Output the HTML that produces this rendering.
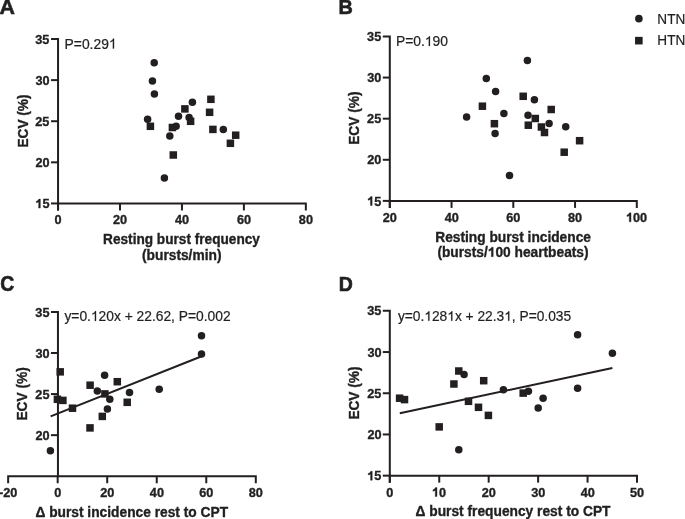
<!DOCTYPE html>
<html><head><meta charset="utf-8"><style>
html,body{margin:0;padding:0;background:#fff;width:685px;height:519px;overflow:hidden}
svg{display:block}
.tx{filter:grayscale(1)}
text{font-family:"Liberation Sans",sans-serif;fill:#231f20}
text:not(.b):not(.pl){stroke:#231f20;stroke-width:0.2px}
.b{font-weight:bold;stroke:#231f20;stroke-width:0.35px}
.pl{font-weight:bold;stroke:#231f20;stroke-width:0.6px}
.h{fill-opacity:0;stroke-opacity:0}
.gb{fill:#231f20;stroke:#231f20;stroke-width:0.35px}
.gr{fill:#231f20;stroke:#231f20;stroke-width:0.2px}
</style></head><body>
<svg width="685" height="519" viewBox="0 0 685 519">
<g stroke="#231f20" stroke-width="2" fill="none" stroke-linecap="butt" stroke-linejoin="miter">
<path d="M51.05,39.00H58.05V210.45"/>
<path d="M58.05,210.45V203.45H305.85V210.45"/>
<line x1="51.05" y1="80.11" x2="58.05" y2="80.11"/>
<line x1="51.05" y1="121.22" x2="58.05" y2="121.22"/>
<line x1="51.05" y1="162.34" x2="58.05" y2="162.34"/>
<line x1="51.05" y1="203.45" x2="58.05" y2="203.45"/>
<line x1="120.00" y1="203.45" x2="120.00" y2="210.45"/>
<line x1="181.95" y1="203.45" x2="181.95" y2="210.45"/>
<line x1="243.90" y1="203.45" x2="243.90" y2="210.45"/>
<path d="M382.80,36.45H389.80V207.90"/>
<path d="M389.80,207.90V200.90H636.80V207.90"/>
<line x1="382.80" y1="77.56" x2="389.80" y2="77.56"/>
<line x1="382.80" y1="118.67" x2="389.80" y2="118.67"/>
<line x1="382.80" y1="159.79" x2="389.80" y2="159.79"/>
<line x1="382.80" y1="200.90" x2="389.80" y2="200.90"/>
<line x1="451.55" y1="200.90" x2="451.55" y2="207.90"/>
<line x1="513.30" y1="200.90" x2="513.30" y2="207.90"/>
<line x1="575.05" y1="200.90" x2="575.05" y2="207.90"/>
<path d="M50.95,311.90H57.95V476.25"/>
<path d="M8.15,483.25V476.25H255.80V483.25"/>
<line x1="50.95" y1="352.99" x2="57.95" y2="352.99"/>
<line x1="50.95" y1="394.07" x2="57.95" y2="394.07"/>
<line x1="50.95" y1="435.16" x2="57.95" y2="435.16"/>
<line x1="57.68" y1="476.25" x2="57.68" y2="483.25"/>
<line x1="107.21" y1="476.25" x2="107.21" y2="483.25"/>
<line x1="156.74" y1="476.25" x2="156.74" y2="483.25"/>
<line x1="206.27" y1="476.25" x2="206.27" y2="483.25"/>
<line x1="50.60" y1="416.40" x2="201.70" y2="356.20"/>
<path d="M382.80,310.85H389.80V482.65"/>
<path d="M389.80,482.65V475.65H637.00V482.65"/>
<line x1="382.80" y1="352.05" x2="389.80" y2="352.05"/>
<line x1="382.80" y1="393.25" x2="389.80" y2="393.25"/>
<line x1="382.80" y1="434.45" x2="389.80" y2="434.45"/>
<line x1="382.80" y1="475.65" x2="389.80" y2="475.65"/>
<line x1="439.24" y1="475.65" x2="439.24" y2="482.65"/>
<line x1="488.68" y1="475.65" x2="488.68" y2="482.65"/>
<line x1="538.12" y1="475.65" x2="538.12" y2="482.65"/>
<line x1="587.56" y1="475.65" x2="587.56" y2="482.65"/>
<line x1="399.80" y1="413.20" x2="612.40" y2="368.00"/>
</g>
<g fill="#231f20">
<circle cx="154.20" cy="62.80" r="3.75"/>
<circle cx="152.45" cy="80.95" r="3.75"/>
<circle cx="154.40" cy="94.00" r="3.75"/>
<circle cx="147.60" cy="119.30" r="3.75"/>
<circle cx="192.40" cy="102.30" r="3.75"/>
<circle cx="178.50" cy="116.30" r="3.75"/>
<circle cx="189.10" cy="117.50" r="3.75"/>
<circle cx="176.10" cy="126.20" r="3.75"/>
<circle cx="169.80" cy="136.10" r="3.75"/>
<circle cx="164.40" cy="178.00" r="3.75"/>
<circle cx="223.30" cy="129.40" r="3.75"/>
<rect x="146.65" y="122.55" width="7.5" height="7.5"/>
<rect x="181.15" y="105.15" width="7.5" height="7.5"/>
<rect x="186.85" y="117.55" width="7.5" height="7.5"/>
<rect x="168.65" y="123.75" width="7.5" height="7.5"/>
<rect x="169.55" y="151.25" width="7.5" height="7.5"/>
<rect x="207.15" y="95.55" width="7.5" height="7.5"/>
<rect x="205.85" y="108.55" width="7.5" height="7.5"/>
<rect x="209.15" y="125.65" width="7.5" height="7.5"/>
<rect x="231.95" y="131.45" width="7.5" height="7.5"/>
<rect x="226.65" y="139.55" width="7.5" height="7.5"/>
<circle cx="527.40" cy="60.40" r="3.75"/>
<circle cx="486.30" cy="78.60" r="3.75"/>
<circle cx="495.60" cy="91.50" r="3.75"/>
<circle cx="534.40" cy="99.70" r="3.75"/>
<circle cx="503.90" cy="113.60" r="3.75"/>
<circle cx="466.60" cy="116.90" r="3.75"/>
<circle cx="528.00" cy="115.30" r="3.75"/>
<circle cx="549.10" cy="123.60" r="3.75"/>
<circle cx="495.10" cy="133.60" r="3.75"/>
<circle cx="565.70" cy="126.80" r="3.75"/>
<circle cx="509.50" cy="175.40" r="3.75"/>
<rect x="519.45" y="92.55" width="7.5" height="7.5"/>
<rect x="478.65" y="102.45" width="7.5" height="7.5"/>
<rect x="547.45" y="105.75" width="7.5" height="7.5"/>
<rect x="531.55" y="114.75" width="7.5" height="7.5"/>
<rect x="490.65" y="119.95" width="7.5" height="7.5"/>
<rect x="524.55" y="121.45" width="7.5" height="7.5"/>
<rect x="537.65" y="123.25" width="7.5" height="7.5"/>
<rect x="540.75" y="128.75" width="7.5" height="7.5"/>
<rect x="575.85" y="136.95" width="7.5" height="7.5"/>
<rect x="560.45" y="148.45" width="7.5" height="7.5"/>
<circle cx="638.90" cy="18.65" r="3.8"/>
<rect x="635.05" y="36.85" width="7.6" height="7.6"/>
<circle cx="201.50" cy="335.70" r="3.75"/>
<circle cx="201.50" cy="354.10" r="3.75"/>
<circle cx="159.20" cy="389.30" r="3.75"/>
<circle cx="104.60" cy="375.20" r="3.75"/>
<circle cx="97.30" cy="391.00" r="3.75"/>
<circle cx="109.80" cy="399.30" r="3.75"/>
<circle cx="107.40" cy="408.90" r="3.75"/>
<circle cx="129.50" cy="392.40" r="3.75"/>
<circle cx="50.40" cy="450.80" r="3.75"/>
<rect x="56.45" y="368.10" width="7.5" height="7.5"/>
<rect x="53.65" y="395.55" width="7.5" height="7.5"/>
<rect x="59.15" y="396.65" width="7.5" height="7.5"/>
<rect x="68.75" y="404.45" width="7.5" height="7.5"/>
<rect x="86.35" y="381.45" width="7.5" height="7.5"/>
<rect x="101.15" y="390.15" width="7.5" height="7.5"/>
<rect x="113.55" y="377.95" width="7.5" height="7.5"/>
<rect x="123.45" y="398.55" width="7.5" height="7.5"/>
<rect x="98.55" y="412.65" width="7.5" height="7.5"/>
<rect x="86.25" y="424.15" width="7.5" height="7.5"/>
<circle cx="464.10" cy="374.40" r="3.75"/>
<circle cx="458.80" cy="449.70" r="3.75"/>
<circle cx="503.40" cy="389.80" r="3.75"/>
<circle cx="528.40" cy="391.20" r="3.75"/>
<circle cx="543.10" cy="398.30" r="3.75"/>
<circle cx="538.20" cy="408.10" r="3.75"/>
<circle cx="577.60" cy="334.70" r="3.75"/>
<circle cx="612.40" cy="353.20" r="3.75"/>
<circle cx="577.60" cy="388.20" r="3.75"/>
<rect x="455.05" y="367.25" width="7.5" height="7.5"/>
<rect x="450.15" y="380.25" width="7.5" height="7.5"/>
<rect x="479.95" y="376.95" width="7.5" height="7.5"/>
<rect x="395.85" y="394.45" width="7.5" height="7.5"/>
<rect x="400.75" y="395.85" width="7.5" height="7.5"/>
<rect x="464.75" y="397.55" width="7.5" height="7.5"/>
<rect x="474.75" y="403.55" width="7.5" height="7.5"/>
<rect x="484.65" y="411.65" width="7.5" height="7.5"/>
<rect x="435.45" y="423.15" width="7.5" height="7.5"/>
<rect x="519.45" y="389.35" width="7.5" height="7.5"/>
</g>
<g class="tx">
<path class="gb" transform="translate(35.32,208.09) scale(1,1.0300)" d="M 5.04,-0.00 L 3.30,-0.00 L 3.30,-6.20 C 2.73,-5.72 1.92,-5.33 0.99,-5.12 L 0.99,-6.57 C 1.80,-6.82 2.48,-7.26 2.91,-7.81 C 3.22,-8.19 3.41,-8.50 3.53,-8.74 L 5.04,-8.74 Z"/>
<path class="gr" transform="translate(64.59,48.60) scale(1,1.0480)" d="M 49.47,-0.00 L 48.25,-0.00 L 48.25,-7.44 C 47.96,-7.17 47.57,-6.89 47.10,-6.63 C 46.62,-6.37 46.20,-6.16 45.81,-6.03 L 45.81,-7.16 C 46.49,-7.46 47.09,-7.83 47.60,-8.27 C 48.11,-8.70 48.47,-9.13 48.68,-9.54 L 49.47,-9.54 Z"/>
<path class="gb" transform="translate(367.12,205.54) scale(1,1.0300)" d="M 5.04,-0.00 L 3.30,-0.00 L 3.30,-6.20 C 2.73,-5.72 1.92,-5.33 0.99,-5.12 L 0.99,-6.57 C 1.80,-6.82 2.48,-7.26 2.91,-7.81 C 3.22,-8.19 3.41,-8.50 3.53,-8.74 L 5.04,-8.74 Z"/>
<path class="gb" transform="translate(625.99,221.80) scale(1,1.0300)" d="M 5.04,-0.00 L 3.30,-0.00 L 3.30,-6.20 C 2.73,-5.72 1.92,-5.33 0.99,-5.12 L 0.99,-6.57 C 1.80,-6.82 2.48,-7.26 2.91,-7.81 C 3.22,-8.19 3.41,-8.50 3.53,-8.74 L 5.04,-8.74 Z"/>
<path class="gr" transform="translate(395.89,46.00) scale(1,1.0259)" d="M 34.09,-0.00 L 32.87,-0.00 L 32.87,-7.44 C 32.58,-7.18 32.19,-6.90 31.72,-6.64 C 31.25,-6.37 30.82,-6.17 30.43,-6.03 L 30.43,-7.17 C 31.12,-7.47 31.71,-7.84 32.22,-8.28 C 32.73,-8.71 33.10,-9.14 33.31,-9.55 L 34.09,-9.55 Z"/>
<path class="gb" transform="translate(437.41,256.70) scale(1,1.0045)" d="M 55.82,-0.00 L 53.94,-0.00 L 53.94,-6.71 C 53.32,-6.19 52.45,-5.77 51.44,-5.54 L 51.44,-7.11 C 52.32,-7.38 53.06,-7.85 53.53,-8.46 C 53.86,-8.86 54.06,-9.20 54.20,-9.46 L 55.82,-9.46 Z"/>
<path class="gr" transform="translate(64.43,320.90) scale(1,1.0305)" d="M 31.63,-0.00 L 30.42,-0.00 L 30.42,-7.41 C 30.13,-7.15 29.74,-6.87 29.27,-6.61 C 28.80,-6.34 28.37,-6.14 27.99,-6.01 L 27.99,-7.13 C 28.67,-7.44 29.26,-7.81 29.77,-8.24 C 30.28,-8.67 30.64,-9.10 30.85,-9.51 L 31.63,-9.51 Z"/>
<path class="gb" transform="translate(367.22,480.29) scale(1,1.0300)" d="M 5.04,-0.00 L 3.30,-0.00 L 3.30,-6.20 C 2.73,-5.72 1.92,-5.33 0.99,-5.12 L 0.99,-6.57 C 1.80,-6.82 2.48,-7.26 2.91,-7.81 C 3.22,-8.19 3.41,-8.50 3.53,-8.74 L 5.04,-8.74 Z"/>
<path class="gb" transform="translate(431.95,496.55) scale(1,1.0300)" d="M 5.04,-0.00 L 3.30,-0.00 L 3.30,-6.20 C 2.73,-5.72 1.92,-5.33 0.99,-5.12 L 0.99,-6.57 C 1.80,-6.82 2.48,-7.26 2.91,-7.81 C 3.22,-8.19 3.41,-8.50 3.53,-8.74 L 5.04,-8.74 Z"/>
<path class="gr" transform="translate(397.93,320.80) scale(1,1.0028)" d="M 31.50,-0.00 L 30.29,-0.00 L 30.29,-7.38 C 30.00,-7.12 29.62,-6.84 29.15,-6.58 C 28.68,-6.32 28.25,-6.12 27.87,-5.98 L 27.87,-7.11 C 28.55,-7.41 29.14,-7.78 29.64,-8.21 C 30.15,-8.64 30.51,-9.06 30.72,-9.47 L 31.50,-9.47 Z M 54.44,-0.00 L 53.23,-0.00 L 53.23,-7.38 C 52.94,-7.12 52.55,-6.84 52.08,-6.58 C 51.61,-6.32 51.19,-6.12 50.81,-5.98 L 50.81,-7.11 C 51.48,-7.41 52.08,-7.78 52.58,-8.21 C 53.08,-8.64 53.45,-9.06 53.66,-9.47 L 54.44,-9.47 Z M 111.39,-0.00 L 110.18,-0.00 L 110.18,-7.38 C 109.89,-7.12 109.50,-6.84 109.03,-6.58 C 108.56,-6.32 108.14,-6.12 107.76,-5.98 L 107.76,-7.11 C 108.44,-7.41 109.03,-7.78 109.53,-8.21 C 110.04,-8.64 110.40,-9.06 110.61,-9.47 L 111.39,-9.47 Z"/>
<text class="pl" font-size="21.343" transform="translate(-0.53,13.90) scale(1,0.9806)">A</text>
<text class="b" font-size="12.700" transform="translate(35.32,43.64) scale(1,1.0300)">35</text>
<text class="b" font-size="12.700" transform="translate(35.51,84.76) scale(1,1.0300)">30</text>
<text class="b" font-size="12.700" transform="translate(35.32,125.87) scale(1,1.0300)">25</text>
<text class="b" font-size="12.700" transform="translate(35.51,166.98) scale(1,1.0300)">20</text>
<text id="t0" class="b" font-size="12.700" transform="translate(35.32,208.09) scale(1,1.0300)"><tspan class="h">1</tspan>5</text>
<text class="b" font-size="12.700" transform="translate(54.53,224.35) scale(1,1.0300)">0</text>
<text class="b" font-size="12.700" transform="translate(112.98,224.35) scale(1,1.0300)">20</text>
<text class="b" font-size="12.700" transform="translate(175.06,224.35) scale(1,1.0300)">40</text>
<text class="b" font-size="12.700" transform="translate(236.88,224.35) scale(1,1.0300)">60</text>
<text class="b" font-size="12.700" transform="translate(298.87,224.35) scale(1,1.0300)">80</text>
<text id="t1" class="" font-size="13.869" transform="translate(64.59,48.60) scale(1,1.0480)">P=0.29<tspan class="h">1</tspan></text>
<text class="b" font-size="13.616" transform="translate(27.60,147.49) rotate(-90) scale(1,1.0461)">ECV (%)</text>
<text class="b" font-size="13.648" transform="translate(103.11,244.20) scale(1,1.0650)">Resting burst frequency</text>
<text class="b" font-size="13.768" transform="translate(142.01,259.60) scale(1,1.0557)">(bursts/min)</text>
<text class="pl" font-size="19.836" transform="translate(338.61,13.90) scale(1,1.0552)">B</text>
<text class="b" font-size="12.700" transform="translate(367.12,41.09) scale(1,1.0300)">35</text>
<text class="b" font-size="12.700" transform="translate(367.31,82.21) scale(1,1.0300)">30</text>
<text class="b" font-size="12.700" transform="translate(367.12,123.32) scale(1,1.0300)">25</text>
<text class="b" font-size="12.700" transform="translate(367.31,164.43) scale(1,1.0300)">20</text>
<text id="t2" class="b" font-size="12.700" transform="translate(367.12,205.54) scale(1,1.0300)"><tspan class="h">1</tspan>5</text>
<text class="b" font-size="12.700" transform="translate(382.78,221.80) scale(1,1.0300)">20</text>
<text class="b" font-size="12.700" transform="translate(444.66,221.80) scale(1,1.0300)">40</text>
<text class="b" font-size="12.700" transform="translate(506.28,221.80) scale(1,1.0300)">60</text>
<text class="b" font-size="12.700" transform="translate(568.06,221.80) scale(1,1.0300)">80</text>
<text id="t3" class="b" font-size="12.700" transform="translate(625.99,221.80) scale(1,1.0300)"><tspan class="h">1</tspan>00</text>
<text id="t4" class="" font-size="13.884" transform="translate(395.89,46.00) scale(1,1.0259)">P=0.<tspan class="h">1</tspan>90</text>
<text class="b" font-size="13.722" transform="translate(359.40,144.79) rotate(-90) scale(1,1.0751)">ECV (%)</text>
<text class="b" font-size="13.752" transform="translate(435.21,241.80) scale(1,1.0041)">Resting burst incidence</text>
<text id="t5" class="b" font-size="13.746" transform="translate(437.41,256.70) scale(1,1.0045)">(bursts/<tspan class="h">1</tspan>00 heartbeats)</text>
<text class="" font-size="13.600" transform="translate(657.31,23.50) scale(1,1.0367)">NTN</text>
<text class="" font-size="13.600" transform="translate(657.31,45.30) scale(1,1.0367)">HTN</text>
<text class="pl" font-size="19.389" transform="translate(0.22,291.20) scale(1,1.0945)">C</text>
<text class="b" font-size="12.700" transform="translate(35.37,316.54) scale(1,1.0300)">35</text>
<text class="b" font-size="12.700" transform="translate(35.56,357.63) scale(1,1.0300)">30</text>
<text class="b" font-size="12.700" transform="translate(35.37,398.72) scale(1,1.0300)">25</text>
<text class="b" font-size="12.700" transform="translate(35.56,439.81) scale(1,1.0300)">20</text>
<text class="b" font-size="12.700" transform="translate(-1.03,497.15) scale(1,1.0300)">-20</text>
<text class="b" font-size="12.700" transform="translate(54.16,497.15) scale(1,1.0300)">0</text>
<text class="b" font-size="12.700" transform="translate(100.19,497.15) scale(1,1.0300)">20</text>
<text class="b" font-size="12.700" transform="translate(149.85,497.15) scale(1,1.0300)">40</text>
<text class="b" font-size="12.700" transform="translate(199.25,497.15) scale(1,1.0300)">60</text>
<text class="b" font-size="12.700" transform="translate(248.81,497.15) scale(1,1.0300)">80</text>
<text id="t6" class="" font-size="13.823" transform="translate(64.43,320.90) scale(1,1.0305)">y=0.<tspan class="h">1</tspan>20x + 22.62, P=0.002</text>
<text class="b" font-size="13.766" transform="translate(35.41,516.80) scale(1,1.0453)">Δ burst incidence rest to CPT</text>
<text class="b" font-size="13.748" transform="translate(26.90,420.59) rotate(-90) scale(1,1.0889)">ECV (%)</text>
<text class="pl" font-size="19.512" transform="translate(338.73,291.00) scale(1,1.0652)">D</text>
<text class="b" font-size="12.700" transform="translate(367.22,315.49) scale(1,1.0300)">35</text>
<text class="b" font-size="12.700" transform="translate(367.41,356.69) scale(1,1.0300)">30</text>
<text class="b" font-size="12.700" transform="translate(367.22,397.89) scale(1,1.0300)">25</text>
<text class="b" font-size="12.700" transform="translate(367.41,439.09) scale(1,1.0300)">20</text>
<text id="t7" class="b" font-size="12.700" transform="translate(367.22,480.29) scale(1,1.0300)"><tspan class="h">1</tspan>5</text>
<text class="b" font-size="12.700" transform="translate(386.28,496.55) scale(1,1.0300)">0</text>
<text id="t8" class="b" font-size="12.700" transform="translate(431.95,496.55) scale(1,1.0300)"><tspan class="h">1</tspan>0</text>
<text class="b" font-size="12.700" transform="translate(481.66,496.55) scale(1,1.0300)">20</text>
<text class="b" font-size="12.700" transform="translate(531.17,496.55) scale(1,1.0300)">30</text>
<text class="b" font-size="12.700" transform="translate(580.67,496.55) scale(1,1.0300)">40</text>
<text class="b" font-size="12.700" transform="translate(630.01,496.55) scale(1,1.0300)">50</text>
<text id="t9" class="" font-size="13.769" transform="translate(397.93,320.80) scale(1,1.0028)">y=0.<tspan class="h">1</tspan>28<tspan class="h">1</tspan>x + 22.3<tspan class="h">1</tspan>, P=0.035</text>
<text class="b" font-size="13.765" transform="translate(415.55,516.20) scale(1,1.0453)">Δ burst frequency rest to CPT</text>
<text class="b" font-size="13.642" transform="translate(358.60,419.59) rotate(-90) scale(1,1.0867)">ECV (%)</text>
</g>
</svg>
</body></html>
